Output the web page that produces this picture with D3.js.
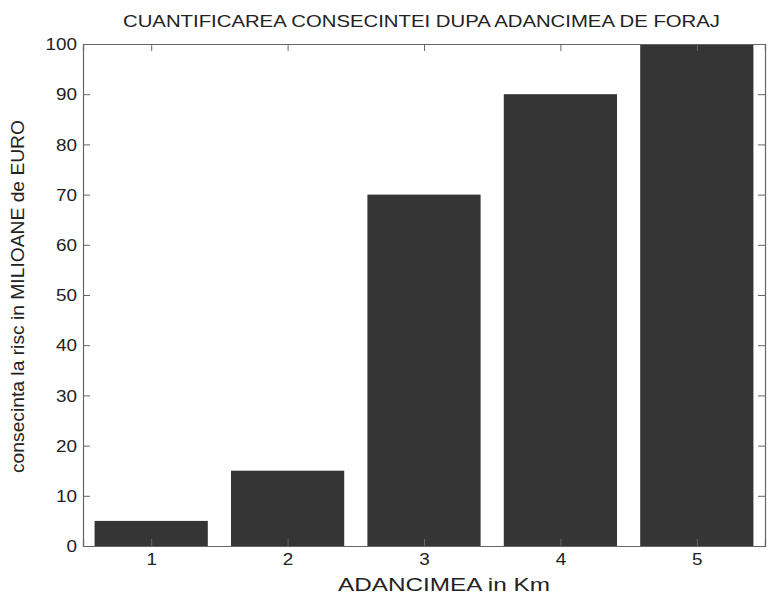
<!DOCTYPE html>
<html><head><meta charset="utf-8">
<script src="https://cdn.jsdelivr.net/npm/d3@7"></script>
<style>body{margin:0;background:#fff}text{font-family:"Liberation Sans",Arial,sans-serif;fill:#222}</style>
</head><body><svg id="c" width="772" height="594"></svg>
<script>
const categories = [1, 2, 3, 4, 5];
const values = [5, 15, 70, 90, 100];
const yTicks = [0, 10, 20, 30, 40, 50, 60, 70, 80, 90, 100];
const title = "CUANTIFICAREA CONSECINTEI DUPA ADANCIMEA DE FORAJ";
const xLabel = "ADANCIMEA in Km";
const yLabel = "consecinta la risc in MILIOANE de EURO";

const m = {l: 83, r: 765, t: 44, b: 546};
const svg = d3.select("#c");
const x = d3.scaleLinear().domain([0.5, 5.5]).range([m.l, m.r]);
const y = d3.scaleLinear().domain([0, 100]).range([m.b, m.t]);
const bw = 0.83;

svg.selectAll("rect.bar").data(values).join("rect")
  .attr("class", "bar")
  .attr("x", (d, i) => x(categories[i] - bw / 2))
  .attr("width", (d, i) => x(categories[i] + bw / 2) - x(categories[i] - bw / 2))
  .attr("y", d => y(d))
  .attr("height", d => y(0) - y(d))
  .attr("fill", "#353535");

const axisColor = "#666";
const tl = 7;
const gl = svg.append("g").attr("transform", `translate(${m.l},0)`)
  .call(d3.axisLeft(y).tickValues(yTicks).tickSize(-tl).tickPadding(6));
const gr = svg.append("g").attr("transform", `translate(${m.r},0)`)
  .call(d3.axisRight(y).tickValues(yTicks).tickSize(-tl).tickFormat(""));
const gb = svg.append("g").attr("transform", `translate(0,${m.b})`)
  .call(d3.axisBottom(x).tickValues(categories).tickSize(-tl).tickPadding(7).tickFormat(d3.format("d")));
const gt = svg.append("g").attr("transform", `translate(0,${m.t})`)
  .call(d3.axisTop(x).tickValues(categories).tickSize(-tl).tickFormat(""));
[gl, gr, gb, gt].forEach(g => {
  g.selectAll("path").attr("stroke", axisColor).attr("stroke-width", 1.2);
  g.selectAll("line").attr("stroke", axisColor);
  g.selectAll("text").style("font-size", "16px").attr("fill", "#222");
});
gl.selectAll("text").attr("dy", "0.36em");
gb.selectAll("text").attr("dy", "0.72em");
svg.selectAll("g.tick text").each(function () {
  const len = this.getComputedTextLength();
  if (len > 0) d3.select(this).attr("textLength", len * 1.18).attr("lengthAdjust", "spacingAndGlyphs");
});

svg.append("text").attr("x", 421.5).attr("y", 27)
  .attr("text-anchor", "middle").style("font-size", "17px")
  .attr("textLength", 597).attr("lengthAdjust", "spacingAndGlyphs").text(title);
svg.append("text").attr("x", 444).attr("y", 591)
  .attr("text-anchor", "middle").style("font-size", "18px")
  .attr("textLength", 212).attr("lengthAdjust", "spacingAndGlyphs").text(xLabel);
svg.append("text").attr("transform", `translate(24,296.5) rotate(-90)`)
  .attr("text-anchor", "middle").style("font-size", "18px")
  .attr("textLength", 353).attr("lengthAdjust", "spacingAndGlyphs").text(yLabel);
</script></body></html>
